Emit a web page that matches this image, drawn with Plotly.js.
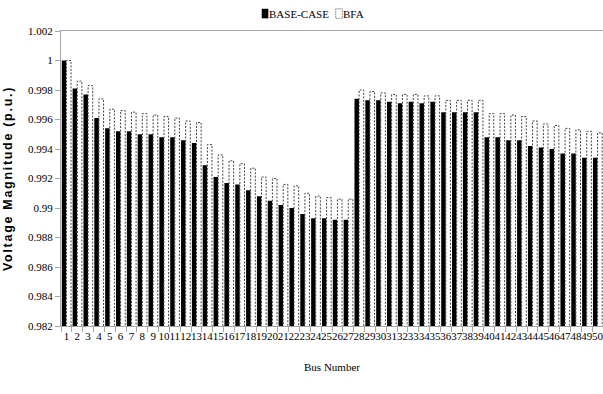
<!DOCTYPE html>
<html>
<head>
<meta charset="utf-8">
<script src="https://cdn.plot.ly/plotly-3.0.1.min.js"></script>
<style>
  html, body { margin: 0; padding: 0; background: #fff; }
  #chart { width: 603px; height: 394px; }
  .barlayer .trace.bars:nth-of-type(2) path { stroke-dasharray: 2px 1.5px; }
  .legend .traces .legendpoints path { transform: translate(36px, 0px) scale(0.55, 0.8); }
  .legend .traces:nth-of-type(2) .legendpoints path { stroke-dasharray: 2px 1.2px; }
  .ytitle { letter-spacing: 1.7px; }
</style>
</head>
<body>
<div id="chart"></div>
<script>
// ---- data ----
const busNumbers = Array.from({length: 50}, (_, i) => String(i + 1));
const baseCase = [1.0000, 0.9981, 0.9977, 0.9961, 0.9954, 0.9952, 0.9952, 0.9950, 0.9950, 0.9948,
                  0.9948, 0.9946, 0.9944, 0.9929, 0.9921, 0.9917, 0.9916, 0.9912, 0.9908, 0.9905,
                  0.9902, 0.9900, 0.9896, 0.9893, 0.9893, 0.9892, 0.9892, 0.9974, 0.9973, 0.9973,
                  0.9972, 0.9971, 0.9972, 0.9971, 0.9972, 0.9965, 0.9965, 0.9965, 0.9965, 0.9948,
                  0.9948, 0.9946, 0.9946, 0.9942, 0.9941, 0.9940, 0.9937, 0.9937, 0.9934, 0.9934];
const bfa      = [1.0000, 0.9986, 0.9983, 0.9974, 0.9967, 0.9966, 0.9965, 0.9964, 0.9963, 0.9962,
                  0.9961, 0.9959, 0.9958, 0.9943, 0.9936, 0.9932, 0.9930, 0.9927, 0.9921, 0.9920,
                  0.9916, 0.9915, 0.9910, 0.9908, 0.9907, 0.9906, 0.9906, 0.9980, 0.9979, 0.9978,
                  0.9977, 0.9977, 0.9977, 0.9976, 0.9976, 0.9973, 0.9973, 0.9973, 0.9973, 0.9964,
                  0.9964, 0.9963, 0.9962, 0.9959, 0.9957, 0.9956, 0.9954, 0.9953, 0.9952, 0.9951];
const yTickValues = [0.982, 0.984, 0.986, 0.988, 0.990, 0.992, 0.994, 0.996, 0.998, 1.000, 1.002];
const yTickLabels = ['0.982', '0.984', '0.986', '0.988', '0.99', '0.992', '0.994', '0.996', '0.998', '1', '1.002'];
const seriesNames = ['BASE-CASE', 'BFA'];

const serif = 'Liberation Serif, Times New Roman, serif';
const axisGray = '#a6a6a6';

const traces = [
  {
    type: 'bar', name: seriesNames[0], x: busNumbers, y: baseCase,
    marker: {color: '#000000', line: {width: 0}}
  },
  {
    type: 'bar', name: seriesNames[1], x: busNumbers, y: bfa,
    marker: {color: '#ffffff', line: {width: 1, color: '#444444'}}
  }
];

const layout = {
  width: 603, height: 394,
  margin: {l: 61, r: 0, t: 31, b: 68, autoexpand: false},
  paper_bgcolor: '#ffffff', plot_bgcolor: '#ffffff',
  barmode: 'group', bargap: 0.15, bargroupgap: 0,
  showlegend: true,
  legend: {
    orientation: 'h', x: 0.31, xanchor: 'left', y: 1.01, yanchor: 'bottom',
    font: {family: serif, size: 11, color: '#000'},
    itemwidth: 30, entrywidth: 29, entrywidthmode: 'pixels', bgcolor: 'rgba(0,0,0,0)'
  },
  xaxis: {
    type: 'category', tickmode: 'linear', dtick: 1, tickson: 'boundaries', ticks: 'outside', ticklen: 5,
    tickcolor: axisGray, showline: true, linecolor: axisGray, linewidth: 1, mirror: true,
    showgrid: false, tickangle: 0,
    tickfont: {family: serif, size: 11, color: '#000'},
    title: {text: 'Bus Number', font: {family: serif, size: 11, color: '#000'}, standoff: 22}
  },
  yaxis: {
    range: [0.982, 1.002], tickmode: 'array', tickvals: yTickValues, ticktext: yTickLabels,
    ticks: 'outside', ticklen: 5, tickcolor: axisGray, showline: true, linecolor: axisGray,
    showgrid: false, zeroline: false,
    tickfont: {family: serif, size: 11, color: '#000'},
    title: {text: 'Voltage Magnitude (p.u.)', standoff: 12,
            font: {family: 'Liberation Sans, Arial, sans-serif', size: 12.5, weight: 'bold', color: '#000'}}
  }
};

Plotly.newPlot('chart', traces, layout, {displayModeBar: false, staticPlot: true});
</script>
</body>
</html>
